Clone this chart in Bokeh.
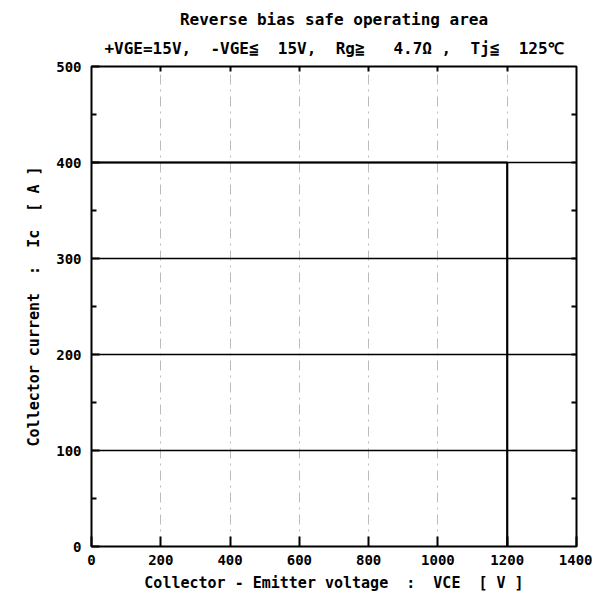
from bokeh.plotting import figure
from bokeh.models import FixedTicker, LinearAxis, Title, Range1d
from bokeh.embed import file_html
from bokeh.resources import INLINE

# Data: RBSOA boundary
vce = [0, 1200, 1200]
ic = [400, 400, 0]

x_ticks = [0, 200, 400, 600, 800, 1000, 1200, 1400]
y_ticks = [0, 100, 200, 300, 400, 500]
y_minor = [50, 150, 250, 350, 450]
x_inner = [200, 400, 600, 800, 1000, 1200]
y_inner = [50, 100, 150, 200, 250, 300, 350, 400, 450]

NB = "\u00a0"
title1 = "Reverse bias safe operating area"
title2 = ("+VGE=15V," + NB * 2 + "-VGE\u2266" + NB * 2 + "15V," + NB * 2 + "Rg\u2267" + NB * 3
          + "4.7\u03a9" + NB + "," + NB * 2 + "Tj\u2266" + NB * 2 + "125\u2103")
xlabel = "Collector" + NB + "-" + NB + "Emitter" + NB + "voltage" + NB * 2 + ":" + NB * 2 + "VCE" + NB * 2 + "[" + NB + "V" + NB + "]"
ylabel = "Collector" + NB + "current" + NB * 2 + ":" + NB * 2 + "Ic" + NB * 2 + "[" + NB + "A" + NB + "]"

FONT = "DejaVu Sans Mono"

p = figure(width=592, height=596, output_backend="svg", toolbar_location=None,
           x_range=Range1d(0, 1400), y_range=Range1d(0, 500),
           min_border_left=91, min_border_right=16, min_border_top=66, min_border_bottom=50,
           x_axis_label=xlabel, y_axis_label=ylabel)

p.background_fill_color = "white"
p.border_fill_color = "white"
p.outline_line_color = "black"
p.outline_line_width = 2

p.line(vce, ic, line_color="black", line_width=2.2)

# axes
p.xaxis.ticker = FixedTicker(ticks=x_ticks)
p.yaxis.ticker = FixedTicker(ticks=y_ticks, minor_ticks=y_minor)
for ax in p.xaxis + p.yaxis:
    ax.axis_line_color = None
    ax.major_tick_out = 0
    ax.minor_tick_out = 0
    ax.major_tick_line_color = "black"
    ax.major_tick_line_width = 2
    ax.minor_tick_line_color = "black"
    ax.minor_tick_line_width = 2
    ax.major_label_text_font = FONT
    ax.major_label_text_font_style = "bold"
    ax.major_label_text_font_size = "14px"
    ax.major_label_text_color = "black"
    ax.axis_label_text_font = FONT
    ax.axis_label_text_font_style = "bold"
    ax.axis_label_text_font_size = "15px"
    ax.axis_label_text_color = "black"
p.xaxis.major_tick_in = 10
p.yaxis.major_tick_in = 8
p.yaxis.minor_tick_in = 5
p.xaxis.major_label_standoff = 8
p.xaxis.axis_label_standoff = 6
p.yaxis.major_label_standoff = 10
p.yaxis.axis_label_standoff = 10

# right / top tick marks (minor ticks only -> no labels)
right = LinearAxis(ticker=FixedTicker(ticks=[], minor_ticks=y_inner))
top = LinearAxis(ticker=FixedTicker(ticks=[], minor_ticks=x_inner))
for ax in (right, top):
    ax.axis_line_color = None
    ax.minor_tick_out = 0
    ax.minor_tick_in = 5
    ax.minor_tick_line_color = "black"
    ax.minor_tick_line_width = 2
    ax.major_label_standoff = 0
p.add_layout(right, "right")
p.add_layout(top, "above")

# grids
p.xgrid.ticker = FixedTicker(ticks=x_ticks)
p.ygrid.ticker = FixedTicker(ticks=y_ticks)
p.ygrid.grid_line_color = "black"
p.ygrid.grid_line_width = 1.6
p.ygrid.grid_line_alpha = 1
p.xgrid.grid_line_color = "#555555"
p.xgrid.grid_line_width = 1
p.xgrid.grid_line_alpha = 0.4
p.xgrid.grid_line_dash = "10 5 2 5"

# titles
t2 = Title(text=title2, align="center", text_font=FONT, text_font_style="bold",
           text_font_size="16px", text_color="black", standoff=17, text_line_height=1.0)
t1 = Title(text=title1, align="center", text_font=FONT, text_font_style="bold",
           text_font_size="16px", text_color="black", standoff=0, text_line_height=1.0)
p.add_layout(t2, "above")
p.add_layout(t1, "above")

open("out.html", "w").write(file_html(p, INLINE))
